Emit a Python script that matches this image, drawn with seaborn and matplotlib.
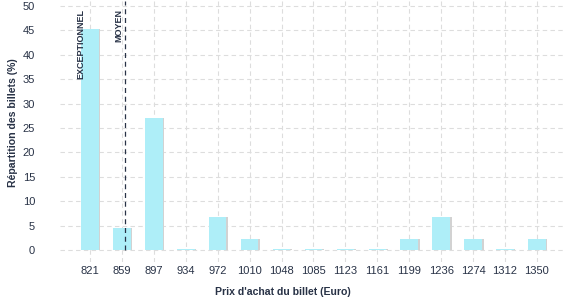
import matplotlib
matplotlib.use("Agg")
import matplotlib.pyplot as plt
import matplotlib.patheffects as pe
import seaborn as sns
import pandas as pd

prices = ["821", "859", "897", "934", "972", "1010", "1048", "1085",
          "1123", "1161", "1199", "1236", "1274", "1312", "1350"]
shares = [45.2, 4.5, 27.1, 0.3, 6.7, 2.2, 0.3, 0.3,
          0.3, 0.3, 2.2, 6.7, 2.2, 0.3, 2.2]
markers = ["EXCEPTIONNEL", "MOYEN"]
marker_pos = [-0.3, 1.1]

df = pd.DataFrame({"prix": prices, "part": shares})

sns.set_style("white")
plt.rcParams["font.family"] = ["Liberation Sans", "DejaVu Sans"]
text_col = "#283246"

fig = plt.figure(figsize=(5.77, 3.0), dpi=100)
ax = fig.add_axes([60 / 577, 1 - 262 / 300, 505 / 577, 261 / 300])

sns.barplot(data=df, x="prix", y="part", order=prices, color="#aeeef8",
            width=0.55, saturation=1, linewidth=0, ax=ax, zorder=3)
for p in ax.patches:
    p.set_path_effects([pe.SimplePatchShadow(offset=(1.2, 0), shadow_rgbFace="#d2d2d2", alpha=1),
                        pe.Normal()])

ax.set_xlim(-0.94, 14.88)
ax.set_ylim(-2.46, 51.0)
ax.set_yticks(range(0, 51, 5))
ax.grid(True, color="#dddddd", linestyle=(0, (4, 3)), linewidth=0.8, zorder=0)
ax.set_axisbelow(True)
for s in ax.spines.values():
    s.set_visible(False)
ax.tick_params(axis="both", length=0, labelsize=8, labelcolor=text_col)
ax.tick_params(axis="y", pad=18)
ax.tick_params(axis="x", pad=3)

ax.axvline(marker_pos[1], color=text_col, linestyle=(0, (4, 3)), linewidth=0.9,
           ymax=(50 + 2.46 + 1) / 53.46, ymin=2.46 / 53.46, zorder=4)
ax.text(marker_pos[0], 49.3, markers[0], rotation=90, ha="center", va="top",
        fontsize=6.5, fontweight="bold", color=text_col, zorder=5)
ax.text(marker_pos[1] - 0.2, 49.3, markers[1], rotation=90, ha="center", va="top",
        fontsize=6.5, fontweight="bold", color=text_col, zorder=5)

ax.set_xlabel("Prix d'achat du billet (Euro)", fontsize=7.6, fontweight="bold", color=text_col)
ax.set_ylabel("Répartition des billets (%)", fontsize=7.6, fontweight="bold", color=text_col)
ax.xaxis.set_label_coords(0.442, -0.096)
ax.yaxis.set_label_coords(-0.083, 0.533)

fig.savefig("out.png", dpi=100)
